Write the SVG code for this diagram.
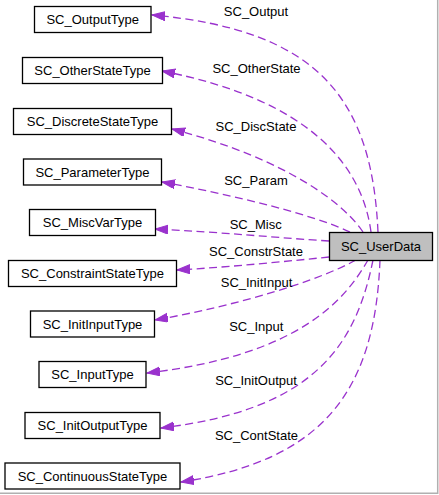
<svg xmlns="http://www.w3.org/2000/svg" width="439" height="495" viewBox="0 0 439 495">
<style>
.node rect{fill:#ffffff;stroke:#000000;stroke-width:1.3}
#SC_UserData rect{fill:#bfbfbf}
text{font-family:"Liberation Sans",Arial,Helvetica,sans-serif;font-size:13px;fill:#000000}
.node text{text-anchor:middle}
.elabel{text-anchor:middle}
#edges path{fill:none;stroke:#9a32cd;stroke-width:1.3;stroke-dasharray:8,4.5;marker-end:url(#arr)}
</style>
<defs>
<marker id="arr" markerUnits="userSpaceOnUse" markerWidth="15" markerHeight="11" refX="13" refY="4.5" orient="auto">
<path d="M0,0 L13,4.5 L0,9 z" fill="#9a32cd" stroke="#9a32cd" stroke-width="1"/>
</marker>
</defs>
<rect x="0" y="0" width="439" height="495" fill="#ffffff"/>
<line x1="437.7" y1="0" x2="437.7" y2="494" stroke="#b0b0b0" stroke-width="1.5"/>
<line x1="0" y1="493.3" x2="438" y2="493.3" stroke="#b0b0b0" stroke-width="1.5"/>
<g id="edges">
<path d="M378,232 C372,100 320,30 152,15"/>
<text class="elabel" x="256" y="16">SC_Output</text>
<path d="M371,232 C362,165 310,100 162,71"/>
<text class="elabel" x="256.5" y="73">SC_OtherState</text>
<path d="M363,232 C345,205 290,160 172,129"/>
<text class="elabel" x="256" y="131">SC_DiscState</text>
<path d="M350,232 C325,220 260,200 162,182"/>
<text class="elabel" x="256" y="185">SC_Param</text>
<path d="M329,241 C280,238 220,232 155,229"/>
<text class="elabel" x="255.7" y="229">SC_Misc</text>
<path d="M329,257 C280,262 230,267 177,270"/>
<text class="elabel" x="256" y="255.5">SC_ConstrState</text>
<path d="M356,260 C320,280 240,305 155,320"/>
<text class="elabel" x="256.5" y="286.5">SC_InitInput</text>
<path d="M368,260 C345,300 300,355 147,373"/>
<text class="elabel" x="256.3" y="331">SC_Input</text>
<path d="M373,260 C355,350 310,410 161,428"/>
<text class="elabel" x="256" y="384.5">SC_InitOutput</text>
<path d="M380,260 C375,390 325,460 181,482"/>
<text class="elabel" x="256.5" y="440">SC_ContState</text>
</g>
<g id="SC_UserData" class="node"><rect x="329.5" y="232.5" width="103" height="28"/><text x="381" y="251">SC_UserData</text></g>
<g id="SC_OutputType" class="node"><rect x="34.5" y="6.5" width="116.5" height="26"/><text x="92.7" y="24">SC_OutputType</text></g>
<g id="SC_OtherStateType" class="node"><rect x="22.5" y="57.5" width="140" height="26"/><text x="92.5" y="75">SC_OtherStateType</text></g>
<g id="SC_DiscreteStateType" class="node"><rect x="13.5" y="108.5" width="158" height="26"/><text x="92.5" y="126">SC_DiscreteStateType</text></g>
<g id="SC_ParameterType" class="node"><rect x="23.5" y="159" width="138" height="26"/><text x="92.5" y="176.5">SC_ParameterType</text></g>
<g id="SC_MiscVarType" class="node"><rect x="29.5" y="209.5" width="126" height="26"/><text x="92.5" y="227">SC_MiscVarType</text></g>
<g id="SC_ConstraintStateType" class="node"><rect x="8.5" y="260.5" width="168" height="26"/><text x="92.5" y="278">SC_ConstraintStateType</text></g>
<g id="SC_InitInputType" class="node"><rect x="30.5" y="311" width="124" height="26"/><text x="92.5" y="328.5">SC_InitInputType</text></g>
<g id="SC_InputType" class="node"><rect x="39" y="361.5" width="107" height="26"/><text x="92.5" y="379">SC_InputType</text></g>
<g id="SC_InitOutputType" class="node"><rect x="25" y="412.5" width="135" height="26"/><text x="92.5" y="430">SC_InitOutputType</text></g>
<g id="SC_ContinuousStateType" class="node"><rect x="5" y="463" width="175" height="26"/><text x="92.5" y="480.5">SC_ContinuousStateType</text></g>
</svg>
